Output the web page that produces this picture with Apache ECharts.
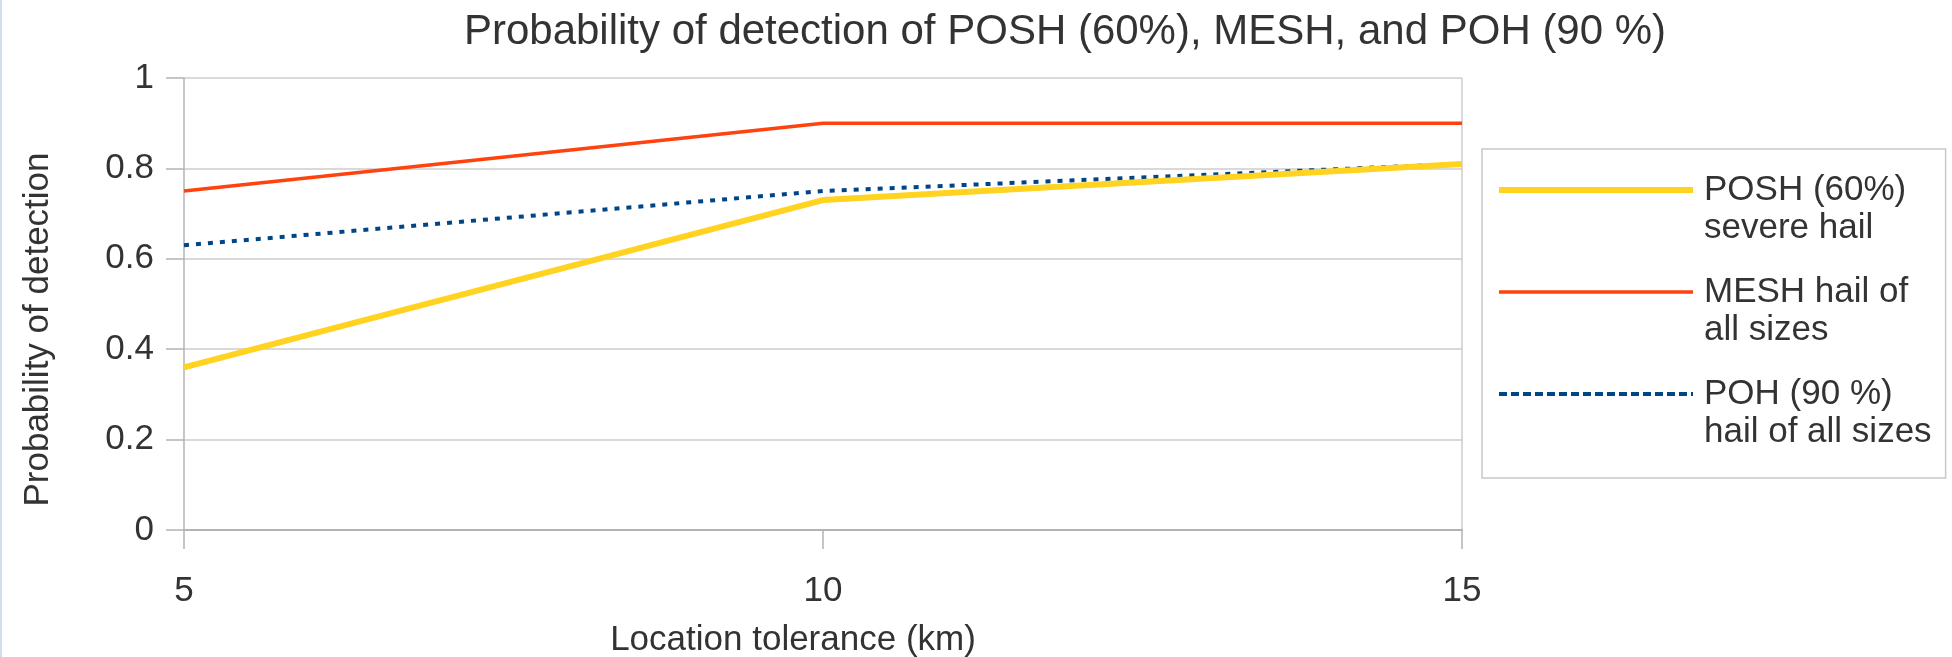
<!DOCTYPE html>
<html><head><meta charset="utf-8">
<script src="https://cdn.jsdelivr.net/npm/echarts@6/dist/echarts.min.js"></script>
<style>html,body{margin:0;padding:0;background:#fff}#c{width:1952px;height:657px}</style>
</head><body><div id="c"></div>
<script>
// ---- data ----
const categories = ['5', '10', '15'];
const poshValues = [0.36, 0.73, 0.81];
const meshValues = [0.75, 0.90, 0.90];
const pohValues  = [0.63, 0.75, 0.81];
const seriesNames = ['POSH (60%)\nsevere hail', 'MESH hail of\nall sizes', 'POH (90 %)\nhail of all sizes'];
const yMin = 0, yMax = 1, yInterval = 0.2;

const FONT = "'Liberation Sans', Arial, sans-serif";
const TXT = '#333333';
const AXIS = '#b3b3b3';
const GRID = '#cccccc';
const COLORS = ['#ffd320', '#ff420e', '#004586'];

const chart = echarts.init(document.getElementById('c'), null, {renderer: 'canvas'});
chart.setOption({
  animation: false,
  backgroundColor: '#ffffff',
  title: {
    text: 'Probability of detection of POSH (60%), MESH, and POH (90 %)',
    left: 1065, top: 11, padding: 0, textAlign: 'center',
    textStyle: {fontSize: 42, fontWeight: 'normal', color: TXT, fontFamily: FONT}
  },
  graphic: [{type: 'rect', shape: {x: 0, y: 0, width: 2, height: 657}, style: {fill: '#d3dbec'}, silent: true}],
  grid: {left: 184, right: 490, top: 78, bottom: 127, containLabel: false, outerBoundsMode: 'none'},
  legend: {
    orient: 'vertical',
    left: 1482, top: 149,
    padding: [-16, 14, 27, 14],
    itemWidth: 194, itemHeight: 20,
    itemGap: -12,
    borderColor: '#c8c8c8', borderWidth: 1.5,
    itemStyle: {opacity: 0},
    formatter: function (n) { return '\n' + n; },
    textStyle: {fontSize: 35, lineHeight: 38, color: TXT, fontFamily: FONT, padding: [0, 0, 0, 6]},
    data: [
      {name: seriesNames[0], lineStyle: {width: 6, color: COLORS[0]}},
      {name: seriesNames[1], lineStyle: {width: 3.5, color: COLORS[1]}},
      {name: seriesNames[2], lineStyle: {width: 4, color: COLORS[2], type: [8, 4]}}
    ]
  },
  xAxis: {
    type: 'category', data: categories, boundaryGap: false,
    name: 'Location tolerance (km)', nameLocation: 'middle', nameGap: 93,
    nameTextStyle: {fontSize: 35, color: TXT, fontFamily: FONT, padding: [0, 60, 0, 0]},
    axisLine: {show: true, lineStyle: {color: AXIS, width: 2}},
    axisTick: {show: true, length: 19, lineStyle: {color: AXIS, width: 1.5}},
    axisLabel: {fontSize: 35, color: TXT, fontFamily: FONT, margin: 44},
    splitLine: {show: true, interval: function (i) { return i === 2; }, lineStyle: {color: GRID, width: 1.5}}
  },
  yAxis: {
    type: 'value', min: yMin, max: yMax, interval: yInterval,
    name: 'Probability of detection', nameLocation: 'middle', nameGap: 128, nameRotate: 90,
    nameTextStyle: {fontSize: 35, color: TXT, fontFamily: FONT, padding: [0, 51, 0, 0]},
    axisLine: {show: true, lineStyle: {color: AXIS, width: 1.5}},
    axisTick: {show: true, length: 18, lineStyle: {color: AXIS, width: 1.5}},
    axisLabel: {fontSize: 35, color: TXT, fontFamily: FONT, margin: 30},
    splitLine: {show: true, lineStyle: {color: GRID, width: 1.5}}
  },
  series: [
    {name: seriesNames[0], type: 'line', data: poshValues, symbol: 'none', z: 4,
     lineStyle: {color: COLORS[0], width: 6}, itemStyle: {color: COLORS[0]}},
    {name: seriesNames[1], type: 'line', data: meshValues, symbol: 'none', z: 3,
     lineStyle: {color: COLORS[1], width: 3.5}, itemStyle: {color: COLORS[1]}},
    {name: seriesNames[2], type: 'line', data: pohValues, symbol: 'none', z: 2,
     lineStyle: {color: COLORS[2], width: 4, type: [5, 7]}, itemStyle: {color: COLORS[2]}}
  ]
});
</script></body></html>
